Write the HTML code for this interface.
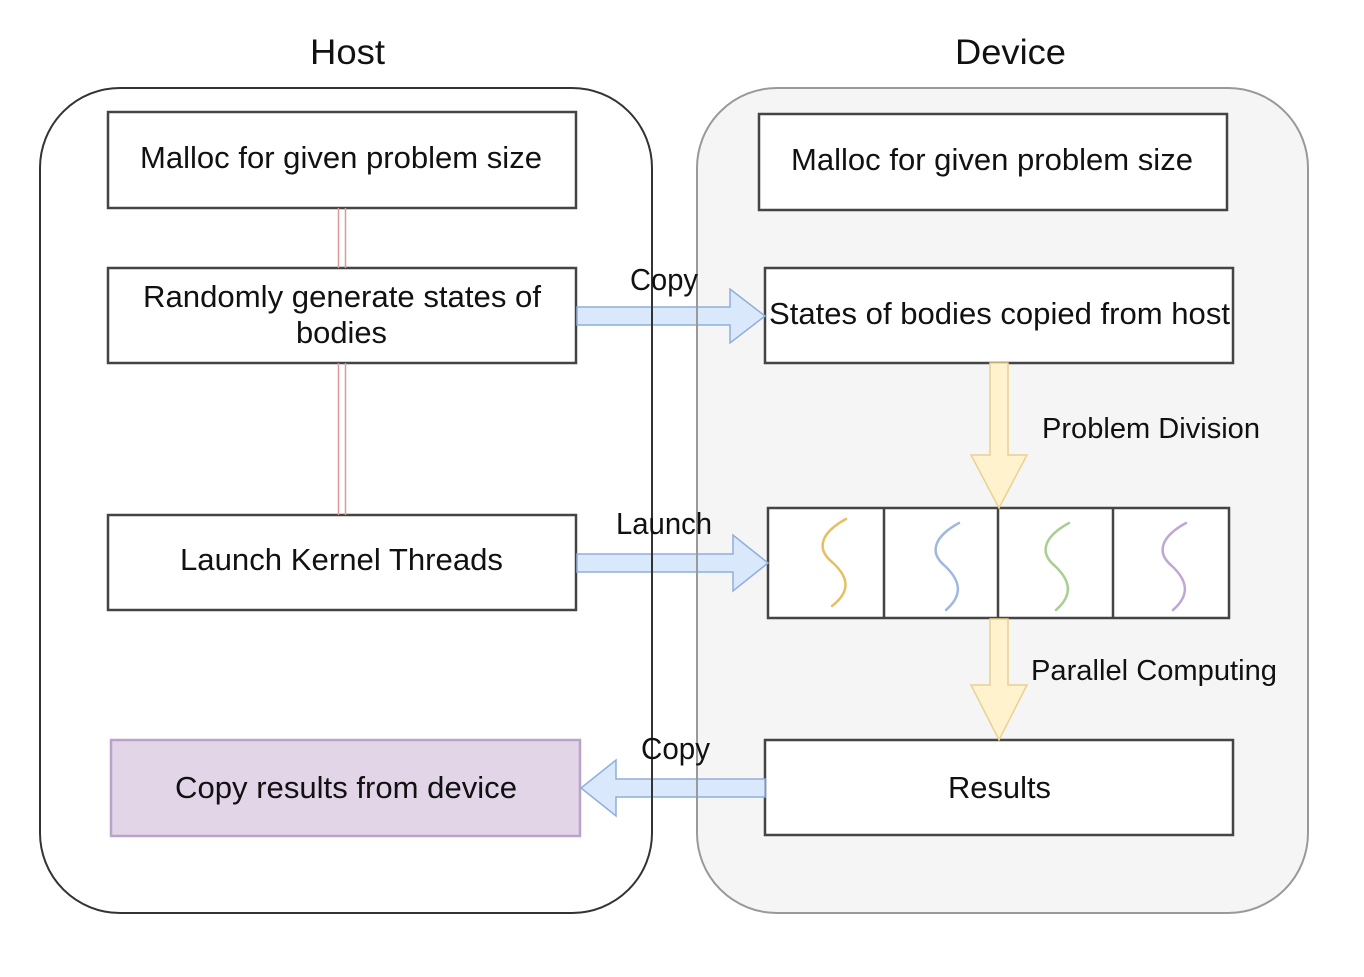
<!DOCTYPE html>
<html><head><style>
html,body{margin:0;padding:0;background:#fff;}
svg text{font-family:"Liberation Sans",Arial,sans-serif;fill:#111;}
</style></head><body>
<svg width="1364" height="972" viewBox="0 0 1364 972" xmlns="http://www.w3.org/2000/svg">
<rect x="0" y="0" width="1364" height="972" fill="#fff"/>
<rect x="697" y="88" width="611" height="825" rx="80" fill="#f5f5f5" stroke="none"/>
<g stroke="#444" stroke-width="2.5" fill="#fff">
<rect x="108" y="112" width="468" height="96"/>
<rect x="108" y="268" width="468" height="95"/>
<rect x="108" y="515" width="468" height="95"/>
<rect x="759" y="114" width="468" height="96"/>
<rect x="765" y="268" width="468" height="95"/>
<rect x="768" y="508" width="461" height="110"/>
<rect x="765" y="740" width="468" height="95"/>
</g>
<rect x="111" y="740" width="469" height="96" fill="#e1d5e7" stroke="#b9a3c8" stroke-width="2.5"/>
<g stroke="#444" stroke-width="2.5">
<line x1="884" y1="508" x2="884" y2="618"/>
<line x1="998" y1="508" x2="998" y2="618"/>
<line x1="1113" y1="508" x2="1113" y2="618"/>
</g>
<g stroke="#d99" stroke-width="1.5">
<line x1="338.5" y1="208" x2="338.5" y2="268"/><line x1="345.5" y1="208" x2="345.5" y2="268"/>
<line x1="338.5" y1="363" x2="338.5" y2="515"/><line x1="345.5" y1="363" x2="345.5" y2="515"/>
</g>
<g fill="#dae8fc" stroke="#8faedc" stroke-width="1.5">
<polygon points="577,307 730,307 730,289 765,316 730,343 730,325 577,325"/>
<polygon points="577,554 733,554 733,535 768,563 733,591 733,572 577,572"/>
<polygon points="765,779 616,779 616,760 581,788 616,816 616,797 765,797"/>
</g>
<g fill="#fff2cc" stroke="#e8d28f" stroke-width="1.5">
<polygon points="990,363 1008,363 1008,455 1027,455 999,508 971,455 990,455"/>
<polygon points="990,619 1008,619 1008,685 1027,685 999,740 971,685 990,685"/>
</g>
<rect x="40" y="88" width="612" height="825" rx="80" fill="none" stroke="#333" stroke-width="2"/>
<rect x="697" y="88" width="611" height="825" rx="80" fill="none" stroke="#999" stroke-width="2"/>
<g fill="none" stroke-width="2.5" stroke-linecap="round">
<path d="M846,519 C822,532 815,548 832,562 C850,578 850,592 832,606" stroke="#e6c060"/>
<path d="M959,523 C935,536 928,552 945,566 C962,582 962,596 946,610" stroke="#9fb8e0"/>
<path d="M1069,523 C1045,536 1038,552 1055,566 C1072,582 1072,596 1056,610" stroke="#a8cf90"/>
<path d="M1186,523 C1162,536 1155,552 1172,566 C1189,582 1189,596 1173,610" stroke="#c0a6d4"/>
</g>
<g font-size="35" lengthAdjust="spacingAndGlyphs">
<text x="310" y="64" textLength="75" lengthAdjust="spacingAndGlyphs">Host</text>
<text x="955" y="64" textLength="111" lengthAdjust="spacingAndGlyphs">Device</text>
</g>
<g font-size="31">
<text x="140" y="168" textLength="402" lengthAdjust="spacingAndGlyphs">Malloc for given problem size</text>
<text x="143" y="307" textLength="398" lengthAdjust="spacingAndGlyphs">Randomly generate states of</text>
<text x="296" y="343" textLength="91" lengthAdjust="spacingAndGlyphs">bodies</text>
<text x="180" y="570" textLength="323" lengthAdjust="spacingAndGlyphs">Launch Kernel Threads</text>
<text x="175" y="798" textLength="342" lengthAdjust="spacingAndGlyphs">Copy results from device</text>
<text x="791" y="170" textLength="402" lengthAdjust="spacingAndGlyphs">Malloc for given problem size</text>
<text x="769" y="324" textLength="461" lengthAdjust="spacingAndGlyphs">States of bodies copied from host</text>
<text x="948" y="798" textLength="103" lengthAdjust="spacingAndGlyphs">Results</text>
<text x="630" y="290" textLength="68" lengthAdjust="spacingAndGlyphs">Copy</text>
<text x="616" y="534" textLength="96" lengthAdjust="spacingAndGlyphs">Launch</text>
<text x="641" y="759" textLength="69" lengthAdjust="spacingAndGlyphs">Copy</text>
</g>
<g font-size="29">
<text x="1042" y="438" textLength="218" lengthAdjust="spacingAndGlyphs">Problem Division</text>
<text x="1031" y="680" textLength="246" lengthAdjust="spacingAndGlyphs">Parallel Computing</text>
</g>
</svg>
</body></html>
